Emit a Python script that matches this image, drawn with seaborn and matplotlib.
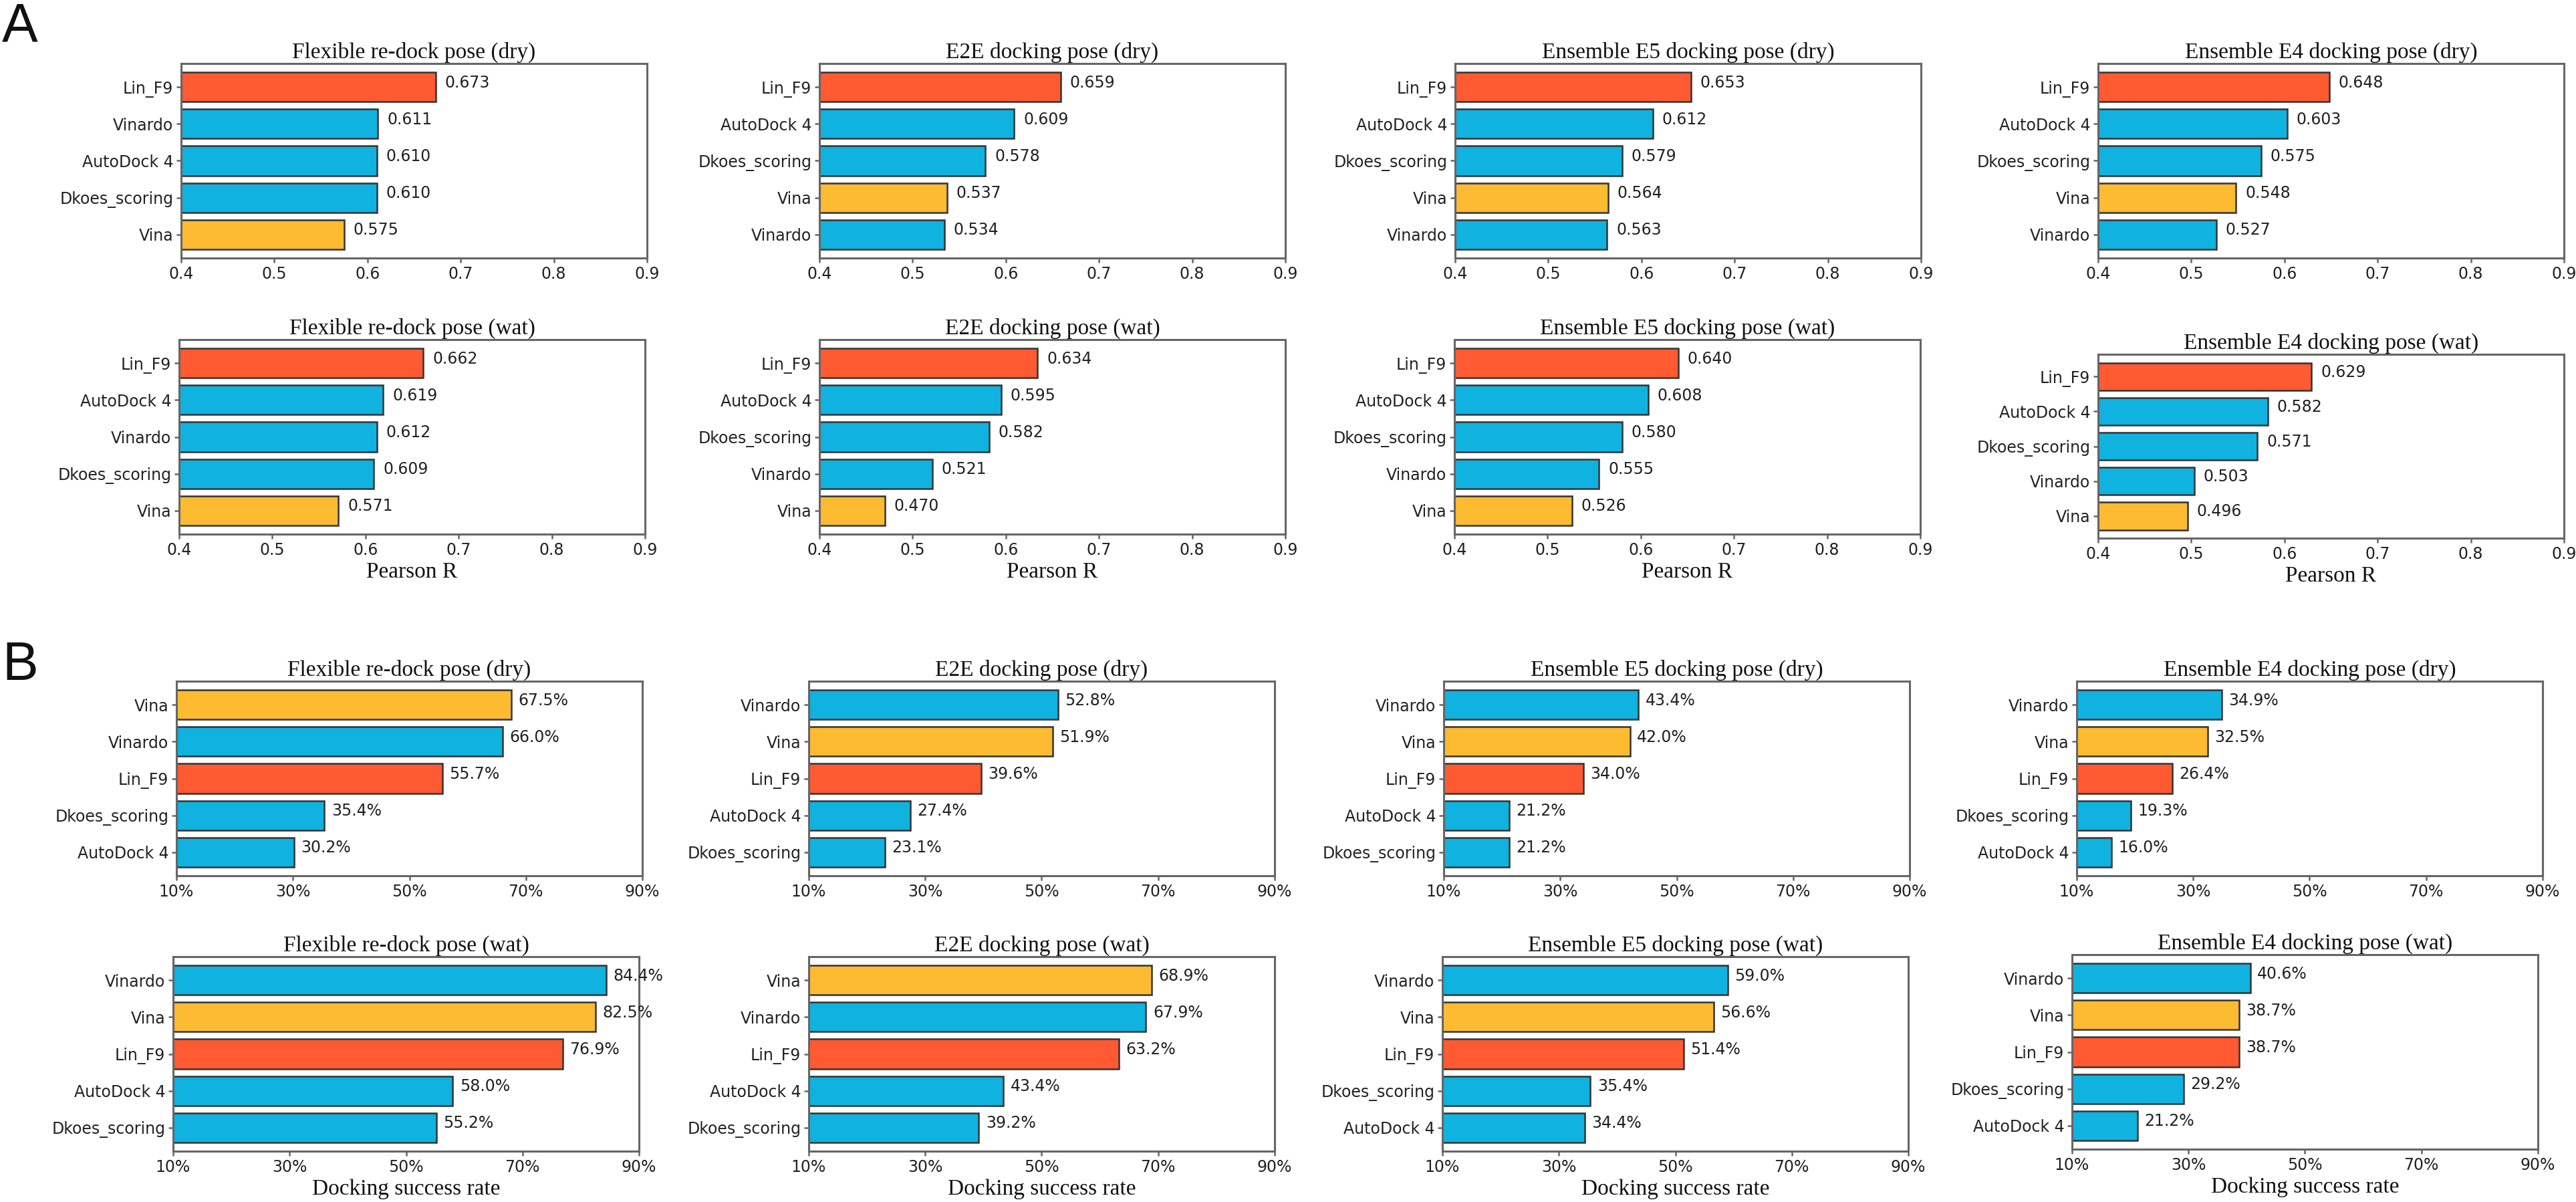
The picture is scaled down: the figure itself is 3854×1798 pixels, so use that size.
import numpy as np
import pandas as pd
import matplotlib
matplotlib.use("Agg")
import matplotlib.pyplot as plt
import seaborn as sns

# ---- data ----
pose_titles = ["Flexible re-dock pose", "E2E docking pose",
               "Ensemble E5 docking pose", "Ensemble E4 docking pose"]

# A: Pearson R (dry)
a_dry_names = [
    ["Lin_F9", "Vinardo", "AutoDock 4", "Dkoes_scoring", "Vina"],
    ["Lin_F9", "AutoDock 4", "Dkoes_scoring", "Vina", "Vinardo"],
    ["Lin_F9", "AutoDock 4", "Dkoes_scoring", "Vina", "Vinardo"],
    ["Lin_F9", "AutoDock 4", "Dkoes_scoring", "Vina", "Vinardo"],
]
a_dry_vals = [
    [0.673, 0.611, 0.610, 0.610, 0.575],
    [0.659, 0.609, 0.578, 0.537, 0.534],
    [0.653, 0.612, 0.579, 0.564, 0.563],
    [0.648, 0.603, 0.575, 0.548, 0.527],
]

# A: Pearson R (wat)
a_wat_names = [
    ["Lin_F9", "AutoDock 4", "Vinardo", "Dkoes_scoring", "Vina"],
    ["Lin_F9", "AutoDock 4", "Dkoes_scoring", "Vinardo", "Vina"],
    ["Lin_F9", "AutoDock 4", "Dkoes_scoring", "Vinardo", "Vina"],
    ["Lin_F9", "AutoDock 4", "Dkoes_scoring", "Vinardo", "Vina"],
]
a_wat_vals = [
    [0.662, 0.619, 0.612, 0.609, 0.571],
    [0.634, 0.595, 0.582, 0.521, 0.470],
    [0.640, 0.608, 0.580, 0.555, 0.526],
    [0.629, 0.582, 0.571, 0.503, 0.496],
]

# B: docking success rate in % (dry)
b_dry_names = [
    ["Vina", "Vinardo", "Lin_F9", "Dkoes_scoring", "AutoDock 4"],
    ["Vinardo", "Vina", "Lin_F9", "AutoDock 4", "Dkoes_scoring"],
    ["Vinardo", "Vina", "Lin_F9", "AutoDock 4", "Dkoes_scoring"],
    ["Vinardo", "Vina", "Lin_F9", "Dkoes_scoring", "AutoDock 4"],
]
b_dry_vals = [
    [67.5, 66.0, 55.7, 35.4, 30.2],
    [52.8, 51.9, 39.6, 27.4, 23.1],
    [43.4, 42.0, 34.0, 21.2, 21.2],
    [34.9, 32.5, 26.4, 19.3, 16.0],
]

# B: docking success rate in % (wat)
b_wat_names = [
    ["Vinardo", "Vina", "Lin_F9", "AutoDock 4", "Dkoes_scoring"],
    ["Vina", "Vinardo", "Lin_F9", "AutoDock 4", "Dkoes_scoring"],
    ["Vinardo", "Vina", "Lin_F9", "Dkoes_scoring", "AutoDock 4"],
    ["Vinardo", "Vina", "Lin_F9", "Dkoes_scoring", "AutoDock 4"],
]
b_wat_vals = [
    [84.4, 82.5, 76.9, 58.0, 55.2],
    [68.9, 67.9, 63.2, 43.4, 39.2],
    [59.0, 56.6, 51.4, 35.4, 34.4],
    [40.6, 38.7, 38.7, 29.2, 21.2],
]

r_ticks = [0.4, 0.5, 0.6, 0.7, 0.8, 0.9]
rate_ticks = [10, 30, 50, 70, 90]

method_colors = {"Lin_F9": "#FF5A32", "Vina": "#FDBB32", "Vinardo": "#10B2E0",
                 "AutoDock 4": "#10B2E0", "Dkoes_scoring": "#10B2E0"}

# ---- layout (pixels in a 3855x1798 canvas) ----
W, H = 3855, 1798
PW, PH = 697, 291
row_lefts = [
    [271, 1226, 2177, 3139],
    [268, 1226, 2176, 3139],
    [264, 1210, 2160, 3107],
    [259, 1210, 2158, 3100],
]
row_tops = [
    [95, 95, 95, 95],
    [508, 508, 508, 530],
    [1019, 1019, 1019, 1019],
    [1431, 1431, 1431, 1428],
]
row_heights = [
    [PH, PH, PH, PH],
    [PH, PH, PH, 275],
    [PH, PH, PH, PH],
    [PH, PH, PH, PH],
]

SERIF = "Liberation Serif"
spine_col = "#666666"

plt.rcParams["font.family"] = "DejaVu Sans"
fig = plt.figure(figsize=(W / 100, H / 100), dpi=100)


def draw_panel(ax, names, vals, title, kind, xlabel):
    df = pd.DataFrame({"method": names, "value": vals})
    sns.barplot(data=df, x="value", y="method", hue="method", palette=method_colors,
                legend=False, orient="h", width=0.8, saturation=1,
                edgecolor="#333333", linewidth=1.8, ax=ax)
    if kind == "r":
        ax.set_xlim(0.4, 0.9)
        ax.set_xticks(r_ticks)
        ax.set_xticklabels([f"{t:.1f}" for t in r_ticks])
        for i, v in enumerate(vals):
            ax.text(v + 0.01, i - 0.12, f"{v:.3f}", va="center", ha="left",
                    fontsize=17, color="#222222")
    else:
        ax.set_xlim(10, 90)
        ax.set_xticks(rate_ticks)
        ax.set_xticklabels([f"{t}%" for t in rate_ticks])
        for i, v in enumerate(vals):
            ax.text(v + 1.2, i - 0.12, f"{v:.1f}%", va="center", ha="left",
                    fontsize=17, color="#222222")
    ax.set_ylim(len(names) - 1 + 0.64, -0.64)
    ax.set_ylabel("")
    ax.set_xlabel(xlabel, fontfamily=SERIF, fontsize=24, color="#111111")
    ax.set_title(title, fontfamily=SERIF, fontsize=24, color="#111111")
    for s in ax.spines.values():
        s.set_color(spine_col)
        s.set_linewidth(2.2)
    ax.tick_params(axis="both", colors=spine_col, width=1.8, length=5,
                   labelsize=17, labelcolor="#222222")


rows = [
    (a_dry_names, a_dry_vals, "dry", "r", ""),
    (a_wat_names, a_wat_vals, "wat", "r", "Pearson R"),
    (b_dry_names, b_dry_vals, "dry", "rate", ""),
    (b_wat_names, b_wat_vals, "wat", "rate", "Docking success rate"),
]

for r, (names_l, vals_l, cond, kind, xlabel) in enumerate(rows):
    for c in range(4):
        left = row_lefts[r][c]
        top = row_tops[r][c]
        h = row_heights[r][c]
        ax = fig.add_axes([left / W, 1 - (top + h) / H, PW / W, h / H])
        draw_panel(ax, names_l[c], vals_l[c], f"{pose_titles[c]} ({cond})", kind, xlabel)

fig.text(3 / W, 1 - 2 / H, "A", fontfamily="Liberation Sans", fontsize=58,
         va="top", ha="left", color="#111111")
fig.text(3 / W, 1 - 958 / H, "B", fontfamily="Liberation Sans", fontsize=58,
         va="top", ha="left", color="#111111")

fig.savefig("out.png", dpi=100, facecolor="white")
